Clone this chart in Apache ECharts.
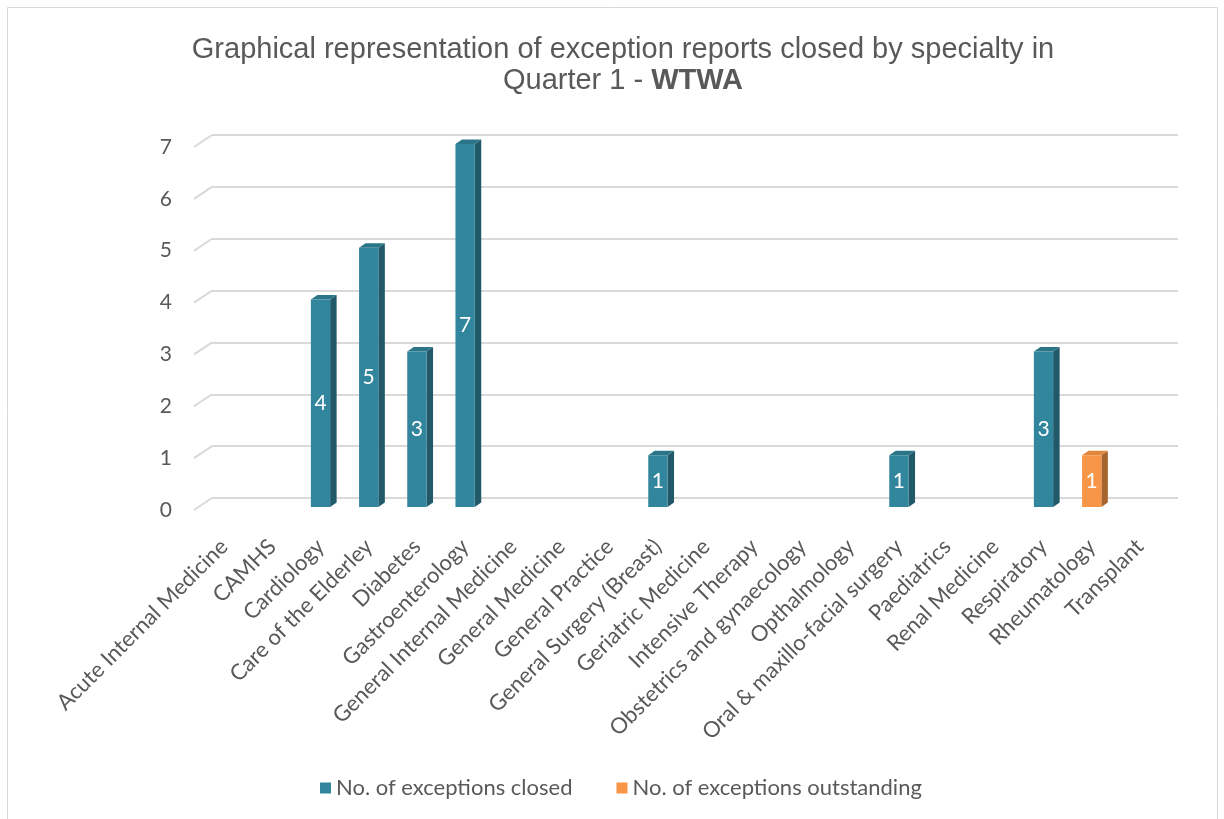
<!DOCTYPE html>
<html>
<head>
<meta charset="utf-8">
<script src="https://cdn.jsdelivr.net/npm/echarts@6/dist/echarts.min.js"></script>
<style>html,body{margin:0;padding:0;background:#fff}#c{width:1224px;height:819px}</style>
</head>
<body>
<div id="c"></div>
<script>
const categories = ['Acute Internal Medicine','CAMHS','Cardiology','Care of the Elderley','Diabetes','Gastroenterology','General Internal Medicine','General Medicine','General Practice','General Surgery (Breast)','Geriatric Medicine','Intensive Therapy','Obstetrics and gynaecology','Opthalmology','Oral & maxillo-facial surgery','Paediatrics','Renal Medicine','Respiratory','Rheumatology','Transplant'];
const closed      = [0,0,4,5,3,7,0,0,0,1,0,0,0,0,1,0,0,3,0,0];
const outstanding = [0,0,0,0,0,0,0,0,0,0,0,0,0,0,0,0,0,0,1,0];
const yTicks = [0,1,2,3,4,5,6,7];

const FONT = 'Lato';
const GREY = '#595959';

function bar3d(front, side, top, baseArr) {
  return function (params, api) {
    const i = api.value(0), v = api.value(1);
    if (!v) return;
    const base = baseArr ? baseArr[i] : 0;
    const p0 = api.coord([i, base]);
    const p1 = api.coord([i, base + v]);
    const w = api.size([1, 0])[0] * 0.4;
    const x = p0[0] - w / 2;
    const d = 6.5, dd = 4.5;
    return {
      type: 'group',
      children: [
        {type: 'polygon', shape: {points: [[x + w, p1[1]], [x + w + d, p1[1] - dd], [x + w + d, p0[1] - dd], [x + w, p0[1]]]}, style: {fill: side}},
        {type: 'polygon', shape: {points: [[x, p1[1]], [x + d, p1[1] - dd], [x + w + d, p1[1] - dd], [x + w, p1[1]]]}, style: {fill: top}},
        {type: 'rect', shape: {x: x, y: p1[1], width: w, height: p0[1] - p1[1]}, style: {fill: front}},
        {type: 'text', x: x + w / 2, y: (p0[1] + p1[1]) / 2, style: {text: String(v), fill: '#fff', font: '21px ' + FONT, align: 'center', verticalAlign: 'middle'}}
      ]
    };
  };
}

const chart = echarts.init(document.getElementById('c'));
chart.setOption({
  animation: false,
  backgroundColor: '#fff',
  graphic: [{type: 'rect', shape: {x: 7.5, y: 7.5, width: 1210, height: 830}, style: {fill: 'none', stroke: '#d9d9d9', lineWidth: 1}, silent: true}],
  title: {
    text: 'Graphical representation of exception reports closed by specialty in\n{n|Quarter 1 - }{b|WTWA}',
    left: 618, top: 29, textAlign: 'center',
    textStyle: {fontFamily: 'Liberation Sans', fontSize: 29, fontWeight: 'normal', color: GREY, lineHeight: 31,
      rich: {n: {fontFamily: 'Liberation Sans', fontSize: 29, color: GREY, lineHeight: 31}, b: {fontFamily: 'Liberation Sans', fontSize: 29, fontWeight: 'bold', color: GREY, lineHeight: 31}}}
  },
  legend: {
    top: 772, left: 315, icon: 'rect', itemWidth: 11, itemHeight: 11, itemGap: 44,
    textStyle: {fontFamily: FONT, fontSize: 22, color: GREY},
    data: ['No. of exceptions closed', 'No. of exceptions outstanding']
  },
  grid: [
    {left: 212, right: 46, top: 135, bottom: 321},
    {left: 194, right: 64, top: 147, bottom: 309},
    {left: 200, right: 60, top: 144, bottom: 312}
  ],
  xAxis: [
    {gridIndex: 0, type: 'value', min: 0, max: 1, show: false},
    {gridIndex: 1, type: 'value', min: 0, max: 1, show: false},
    {gridIndex: 2, type: 'category', data: categories, axisLine: {show: false}, axisTick: {show: false},
      axisLabel: {interval: 0, rotate: 45, margin: 36, fontFamily: FONT, fontSize: 22, color: GREY}}
  ],
  yAxis: [
    {gridIndex: 0, type: 'value', min: 0, max: 7, interval: 1, axisLabel: {show: false}, axisLine: {show: false}, axisTick: {show: false},
      splitLine: {lineStyle: {color: '#d9d9d9', width: 2}}},
    {gridIndex: 1, type: 'value', min: 0, max: 7, interval: 1, axisLine: {show: false}, axisTick: {show: false}, splitLine: {show: false},
      axisLabel: {margin: 22, padding: [5, 0, 0, 0], fontFamily: FONT, fontSize: 21, color: GREY}},
    {gridIndex: 2, type: 'value', min: 0, max: 7, interval: 1, show: false}
  ],
  series: [
    {type: 'custom', name: 'diag', xAxisIndex: 1, yAxisIndex: 1, silent: true,
      data: yTicks.map(v => [0, v]),
      renderItem: function (params, api) {
        const p = api.coord([api.value(0), api.value(1)]);
        return {type: 'line', shape: {x1: p[0], y1: p[1], x2: p[0] + 18, y2: p[1] - 12}, style: {stroke: '#d9d9d9', lineWidth: 2}};
      }},
    {type: 'custom', name: 'No. of exceptions closed', xAxisIndex: 2, yAxisIndex: 2,
      itemStyle: {color: '#31859C'},
      data: closed.map((v, i) => [i, v]), encode: {x: 0, y: 1},
      renderItem: bar3d('#31859C', '#215968', '#2B7589', null)},
    {type: 'custom', name: 'No. of exceptions outstanding', xAxisIndex: 2, yAxisIndex: 2,
      itemStyle: {color: '#F79646'},
      data: outstanding.map((v, i) => [i, v]), encode: {x: 0, y: 1},
      renderItem: bar3d('#F79646', '#A8642D', '#E0873C', closed)}
  ]
});
</script>
</body>
</html>
